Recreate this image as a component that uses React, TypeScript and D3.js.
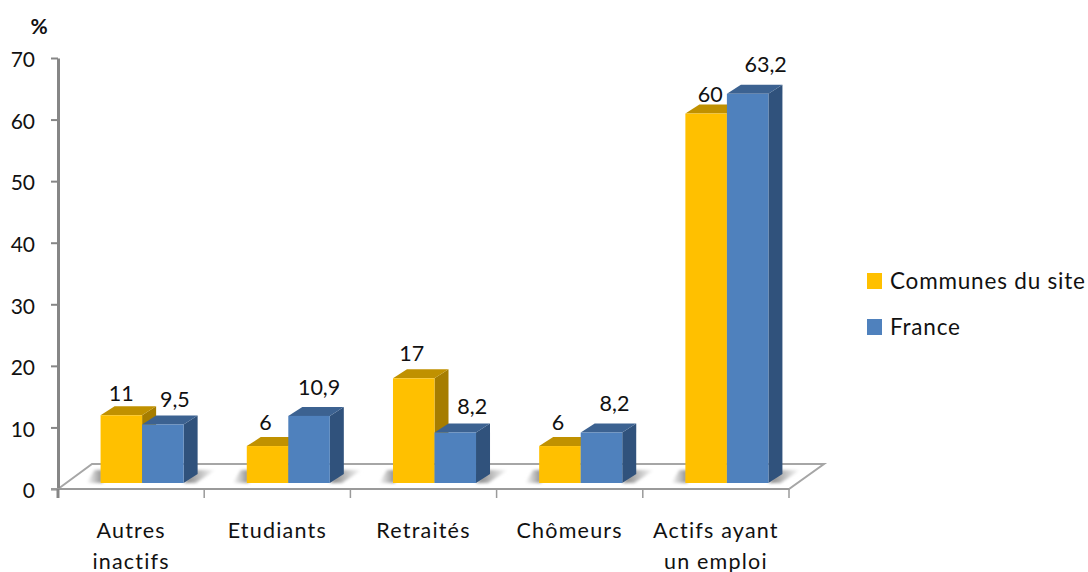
import { useEffect, useRef } from "react";
import * as d3 from "d3";

const categories = ["Autres inactifs", "Etudiants", "Retraités", "Chômeurs", "Actifs ayant un emploi"];
const communes = [11, 6, 17, 6, 60];
const france = [9.5, 10.9, 8.2, 8.2, 63.2];
const communesLabels = ["11", "6", "17", "6", "60"];
const franceLabels = ["9,5", "10,9", "8,2", "8,2", "63,2"];
const yTicks = [0, 10, 20, 30, 40, 50, 60, 70];

// hand placed label offsets, the labels in the original are not regular
const communesNudge = [[0, -13], [-2, -15], [-2, -16], [-2, -15], [4, -11]];
const franceNudge = [[12, -17], [10, -20], [17, -18], [13, -21], [18, -21]];

const FONT = "Lato, sans-serif";
const DEPTH_X = 14;
const DEPTH_Y = 9;
const FLOOR_DX = 34;
const FLOOR_DY = 25;
const BASE_UP = 6;

export default function App() {
  const ref = useRef<SVGSVGElement>(null);

  useEffect(() => {
    if (!ref.current) return;
    const svg = d3.select(ref.current);
    svg.selectAll("*").remove();

    const x0 = 58;
    const x1 = 789;
    const y = d3.scaleLinear().domain([0, 70]).range([489, 58]);
    const xAxis = d3.scaleBand<string>().domain(categories).range([x0, x1]);
    const xBars = d3
      .scaleBand<string>()
      .domain(categories)
      .range([x0 + 11, x1 + 11])
      .paddingInner(0.432)
      .paddingOuter(0.216);
    const barW = xBars.bandwidth() / 2;
    const base = y(0) - BASE_UP;
    const poly = (pts: number[][]) => pts.map((p) => p.join(",")).join(" ");

    const defs = svg.append("defs");
    defs
      .append("filter")
      .attr("id", "floorBlur")
      .attr("x", "-30%").attr("y", "-60%").attr("width", "160%").attr("height", "220%")
      .append("feGaussianBlur")
      .attr("stdDeviation", 1.5);
    const fadeRight = defs.append("linearGradient").attr("id", "fadeRight");
    fadeRight.append("stop").attr("offset", "0%").attr("stop-color", "#7d7d7d");
    fadeRight.append("stop").attr("offset", "100%").attr("stop-color", "#fff");
    const fadeLeft = defs.append("linearGradient").attr("id", "fadeLeft");
    fadeLeft.append("stop").attr("offset", "0%").attr("stop-color", "#fff");
    fadeLeft.append("stop").attr("offset", "100%").attr("stop-color", "#8c8c8c");

    // floor
    svg
      .append("polygon")
      .attr("points", poly([
        [x0, y(0)],
        [x0 + FLOOR_DX, y(0) - FLOOR_DY],
        [x1 + FLOOR_DX + 1, y(0) - FLOOR_DY],
        [x1, y(0)],
      ]))
      .attr("fill", "#fff")
      .attr("stroke", "#a6a6a6")
      .attr("stroke-width", 2);

    // shadows on the floor
    const shadows = svg.append("g").attr("filter", "url(#floorBlur)");
    categories.forEach((c) => {
      const left = xBars(c)!;
      const right = left + barW * 2;
      shadows
        .append("polygon")
        .attr("points", poly([[right, base], [right + 12, base], [right + 32, base - 13], [right + 12, base - 13]]))
        .attr("fill", "url(#fadeRight)");
      shadows
        .append("polygon")
        .attr("points", poly([[left - 14, base], [left + 2, base], [left + 2, base - 13], [left - 6, base - 13]]))
        .attr("fill", "url(#fadeLeft)");
    });

    // y axis
    const axisY = svg
      .append("g")
      .attr("transform", `translate(${x0},0)`)
      .call(d3.axisLeft(y).tickValues(yTicks).tickSize(7).tickSizeOuter(0).tickPadding(16).tickFormat(d3.format("d")));
    axisY.select(".domain").attr("stroke", "#868686").attr("stroke-width", 3);
    axisY.selectAll(".tick line").attr("stroke", "#868686").attr("stroke-width", 2);
    axisY
      .selectAll("text")
      .attr("y", 2)
      .attr("fill", "#111")
      .style("font-family", FONT)
      .style("font-size", "21px");

    // x axis line and ticks
    svg
      .append("line")
      .attr("x1", x0 - 7).attr("x2", x1)
      .attr("y1", y(0)).attr("y2", y(0))
      .attr("stroke", "#9a9a9a")
      .attr("stroke-width", 2);
    d3.range(categories.length + 1).forEach((i) => {
      const tx = x0 + i * xAxis.step();
      svg
        .append("line")
        .attr("x1", tx).attr("x2", tx)
        .attr("y1", y(0)).attr("y2", y(0) + 9)
        .attr("stroke", i === 0 ? "#868686" : "#9a9a9a")
        .attr("stroke-width", i === 0 ? 3 : 1.5);
    });

    const drawBar = (bx: number, v: number, front: string, top: string, side: string) => {
      const ty = y(v) - BASE_UP;
      const g = svg.append("g");
      g.append("polygon")
        .attr("points", poly([
          [bx + barW, ty],
          [bx + barW + DEPTH_X, ty - DEPTH_Y],
          [bx + barW + DEPTH_X, base - DEPTH_Y],
          [bx + barW, base],
        ]))
        .attr("fill", side);
      g.append("polygon")
        .attr("points", poly([
          [bx, ty],
          [bx + DEPTH_X, ty - DEPTH_Y],
          [bx + barW + DEPTH_X, ty - DEPTH_Y],
          [bx + barW, ty],
        ]))
        .attr("fill", top);
      g.append("rect")
        .attr("x", bx).attr("y", ty)
        .attr("width", barW).attr("height", base - ty)
        .attr("fill", front);
    };

    categories.forEach((c, i) => {
      const bx = xBars(c)!;
      drawBar(bx, communes[i], "#ffc000", "#c09100", "#a67d00");
      drawBar(bx + barW, france[i], "#4f81bd", "#3c6291", "#30527c");
    });

    // data labels
    const dataLabel = (lx: number, ly: number, s: string) =>
      svg
        .append("text")
        .attr("x", lx).attr("y", ly)
        .attr("text-anchor", "middle")
        .attr("dominant-baseline", "central")
        .attr("fill", "#111")
        .style("font-family", FONT)
        .style("font-size", "21.5px")
        .text(s);

    categories.forEach((c, i) => {
      const bx = xBars(c)!;
      dataLabel(
        bx + barW / 2 + communesNudge[i][0],
        y(communes[i]) - BASE_UP - DEPTH_Y + communesNudge[i][1],
        communesLabels[i],
      );
      dataLabel(
        bx + barW * 1.5 + franceNudge[i][0],
        y(france[i]) - BASE_UP - DEPTH_Y + franceNudge[i][1],
        franceLabels[i],
      );
    });

    // category labels, wrapped like the original
    const wrapped = [["Autres", "inactifs"], ["Etudiants"], ["Retraités"], ["Chômeurs"], ["Actifs ayant", "un emploi"]];
    categories.forEach((c, i) => {
      wrapped[i].forEach((line, j) => {
        svg
          .append("text")
          .attr("x", xAxis(c)! + xAxis.bandwidth() / 2)
          .attr("y", 538 + j * 31)
          .attr("text-anchor", "middle")
          .attr("fill", "#111")
          .style("font-family", FONT)
          .style("font-size", "21.5px")
          .style("letter-spacing", "1.2px")
          .text(line);
      });
    });

    // % title
    svg
      .append("text")
      .attr("x", 39).attr("y", 34)
      .attr("text-anchor", "middle")
      .attr("fill", "#111")
      .style("font-family", FONT)
      .style("font-size", "21px")
      .style("font-weight", "700")
      .text("%");

    // legend
    const legend = [
      { name: "Communes du site", color: "#ffc000", top: 273 },
      { name: "France", color: "#4f81bd", top: 319 },
    ];
    legend.forEach((d) => {
      svg.append("rect")
        .attr("x", 867).attr("y", d.top)
        .attr("width", 15).attr("height", 16)
        .attr("fill", d.color);
      svg.append("text")
        .attr("x", 890).attr("y", d.top + 16)
        .attr("fill", "#111")
        .style("font-family", FONT)
        .style("font-size", "22.5px")
        .style("letter-spacing", "0.8px")
        .text(d.name);
    });
  }, []);

  return (
    <svg
      ref={ref}
      width="1088"
      height="572"
      style={{ position: "absolute", left: 0, top: 0, background: "#fff" }}
    />
  );
}
